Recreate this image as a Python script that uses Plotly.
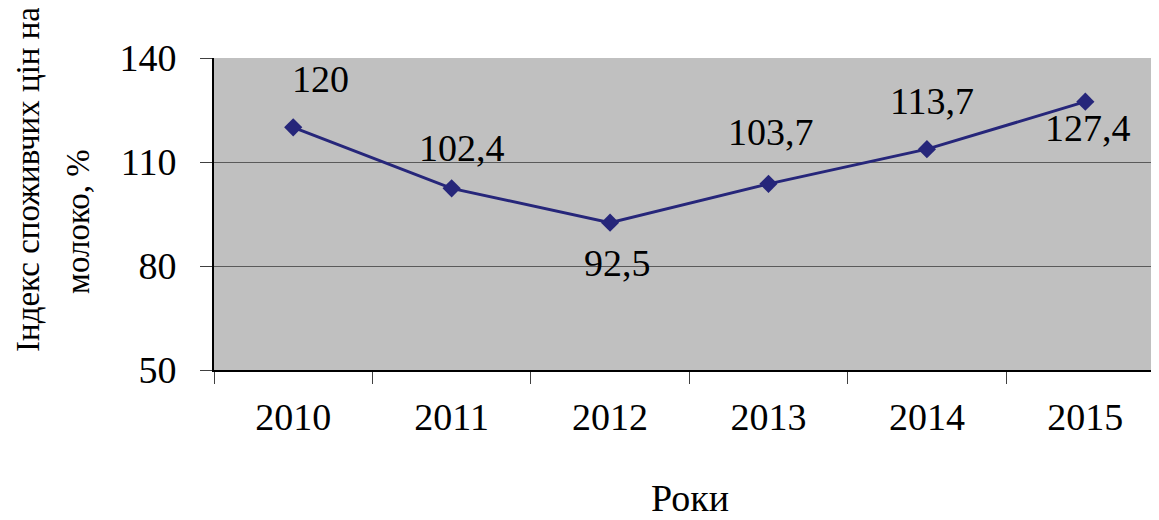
import plotly.graph_objects as go

# data
years = ['2010', '2011', '2012', '2013', '2014', '2015']
index_values = [120, 102.4, 92.5, 103.7, 113.7, 127.4]
value_labels = ['120', '102,4', '92,5', '103,7', '113,7', '127,4']

# label offsets in px (dx, dy), dy positive = up
label_offsets = [(27, 48), (10, 40), (7, -40), (3, 52), (5, 48), (3, -26)]

# page has an 8px body margin, so the figure is a bit smaller and shifted
OFF = 8
W, H = 1159 - OFF, 520 - OFF
L, R, T, B = 214 - OFF, 0, 58 - OFF, 520 - 370
FONT = 'Liberation Serif, Times New Roman, serif'
LINE_COLOR = '#26267a'


def px_x(x):
    # screen px -> paper coords
    return (x - OFF - L) / (W - L - R)


def px_y(y):
    return (H - B - (y - OFF)) / (H - T - B)


fig = go.Figure()
fig.add_trace(go.Scatter(
    x=years, y=index_values,
    mode='lines+markers',
    line=dict(color=LINE_COLOR, width=3),
    marker=dict(symbol='diamond', size=14, color=LINE_COLOR),
    showlegend=False,
    hoverinfo='skip',
))

annotations = []
for i, (v, lab, (dx, dy)) in enumerate(zip(index_values, value_labels, label_offsets)):
    annotations.append(dict(
        x=i, y=v, xref='x', yref='y', text=lab, showarrow=False,
        xanchor='center', yanchor='middle',
        xshift=dx, yshift=dy, font=dict(family=FONT, size=38, color='black'),
    ))

# axis titles
annotations.append(dict(
    x=px_x(28), y=px_y(180), xref='paper', yref='paper',
    xanchor='center', yanchor='middle',
    text='Індекс споживчих цін на', textangle=-90, showarrow=False,
    font=dict(family=FONT, size=33, color='black'),
))
annotations.append(dict(
    x=px_x(78), y=px_y(222), xref='paper', yref='paper',
    xanchor='center', yanchor='middle',
    text='молоко, %', textangle=-90, showarrow=False,
    font=dict(family=FONT, size=33, color='black'),
))
annotations.append(dict(
    x=px_x(690), y=px_y(498), xref='paper', yref='paper',
    xanchor='center', yanchor='middle',
    text='Роки', showarrow=False,
    font=dict(family=FONT, size=38, color='black'),
))

fig.update_layout(
    width=W, height=H,
    margin=dict(l=L, r=R, t=T, b=B, pad=0),
    paper_bgcolor='white',
    plot_bgcolor='#c0c0c0',
    annotations=annotations,
    font=dict(family=FONT, size=38, color='black'),
)

fig.update_xaxes(
    type='category',
    range=[-0.5, 5.465],
    tickson='boundaries',
    ticks='outside', ticklen=12, tickwidth=1, tickcolor='#404040',
    showline=True, linecolor='black', linewidth=2,
    showgrid=False, zeroline=False,
    tickfont=dict(family=FONT, size=38, color='black'),
    ticklabelstandoff=12,
)

fig.update_yaxes(
    range=[50, 140],
    tickvals=[50, 80, 110, 140],
    ticks='outside', ticklen=12, tickwidth=1, tickcolor='#404040',
    showline=True, linecolor='black', linewidth=2,
    showgrid=True, gridcolor='#5a5a5a', gridwidth=1,
    zeroline=False,
    tickfont=dict(family=FONT, size=38, color='black'),
    ticklabelstandoff=16,
)

fig.write_html('out.html')
